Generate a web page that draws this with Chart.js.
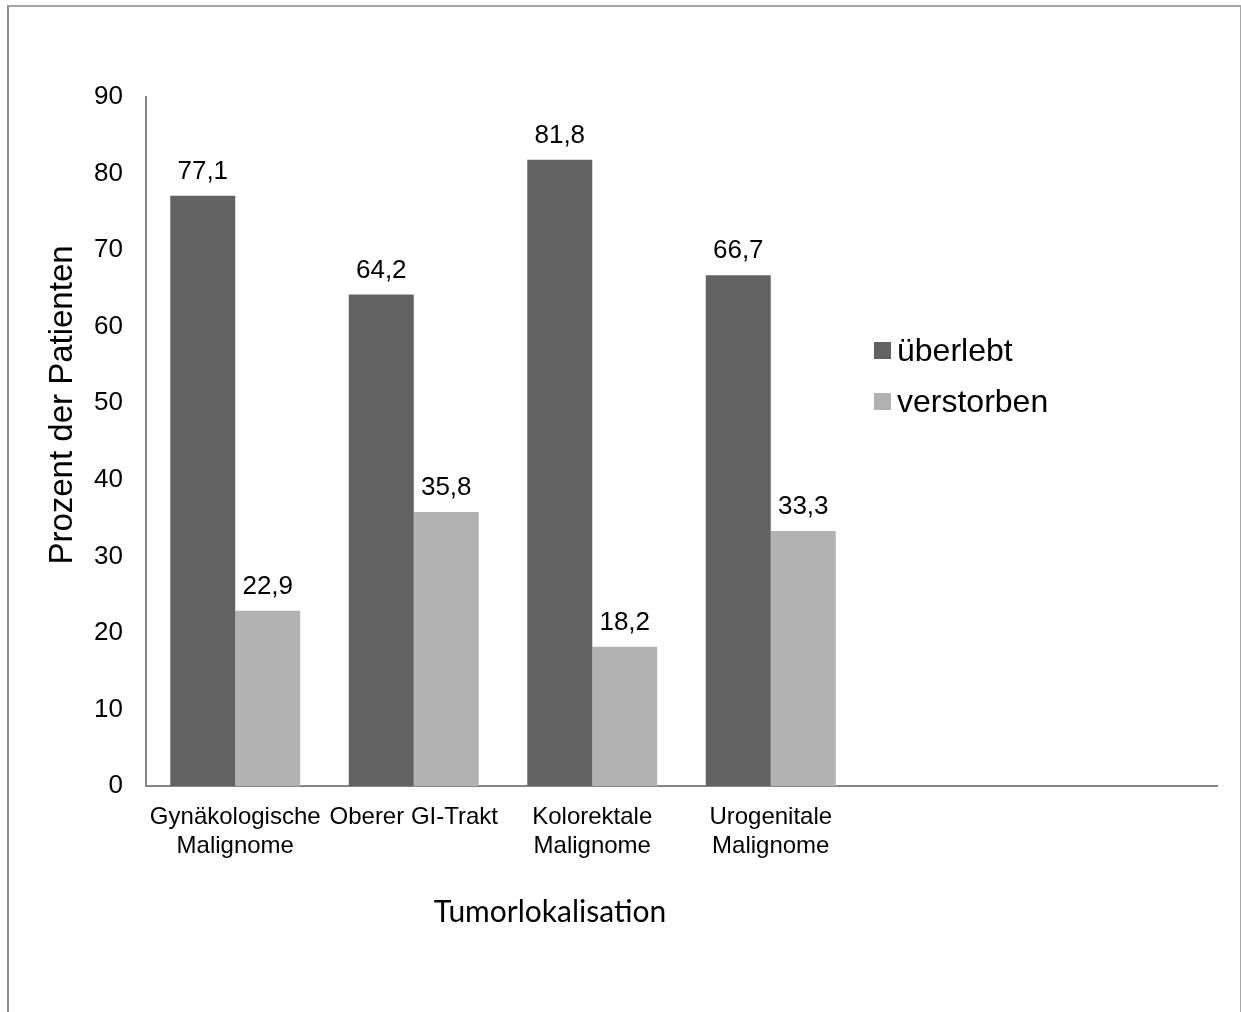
<!DOCTYPE html>
<html lang="de">
<head>
<meta charset="utf-8">
<title>Überleben nach Tumorlokalisation</title>
<script src="https://cdn.jsdelivr.net/npm/chart.js@4.4.1/dist/chart.umd.min.js"></script>
<style>
  html, body { margin: 0; padding: 0; background: #ffffff; overflow: hidden; }
  #wrap { position: relative; width: 1241px; height: 1012px; }
  #frame {
    position: absolute; left: 7px; top: 5px; width: 1231px; height: 1100px;
    border-left: 2px solid #8c8c8c; border-top: 2px solid #a6a6a6; border-right: 2px solid #a6a6a6;
    pointer-events: none;
  }
  canvas { position: absolute; left: 0; top: 0; }
</style>
</head>
<body>
<div id="wrap">
  <canvas id="chart" width="1241" height="1012"></canvas>
  <div id="frame"></div>
</div>
<script>
// Categories (the two trailing slots stay empty, as in the original worksheet range)
const categories = [
  ['Gynäkologische', 'Malignome'],
  'Oberer GI-Trakt',
  ['Kolorektale', 'Malignome'],
  ['Urogenitale', 'Malignome'],
  '',
  ''
];
const seriesNames = ['überlebt', 'verstorben'];
const ueberlebt  = [77.1, 64.2, 81.8, 66.7, null, null];
const verstorben = [22.9, 35.8, 18.2, 33.3, null, null];
const yTicks = [0, 10, 20, 30, 40, 50, 60, 70, 80, 90];
const yTitle = 'Prozent der Patienten';
const xTitle = 'Tumorlokalisation';

const SANS = '"Liberation Sans", Arial, sans-serif';
const colors = ['#626262', '#b2b2b2'];
const axisColor = '#868686';

// Value labels above every bar, German decimal comma
const valueLabels = {
  id: 'valueLabels',
  afterDatasetsDraw(chart) {
    const ctx = chart.ctx;
    ctx.save();
    ctx.font = '26px ' + SANS;
    ctx.fillStyle = '#000000';
    ctx.textAlign = 'center';
    ctx.textBaseline = 'alphabetic';
    chart.data.datasets.forEach((ds, di) => {
      const meta = chart.getDatasetMeta(di);
      meta.data.forEach((bar, i) => {
        const v = ds.data[i];
        if (v === null || v === undefined) return;
        ctx.fillText(v.toFixed(1).replace('.', ','), bar.x, bar.y - 17);
      });
    });
    ctx.restore();
  }
};

// Legend placed inside the plot area on the right, plus both axis titles
const extras = {
  id: 'extras',
  afterDraw(chart) {
    const ctx = chart.ctx;
    ctx.save();
    // legend
    ctx.font = '32px ' + SANS;
    ctx.textAlign = 'left';
    ctx.textBaseline = 'alphabetic';
    chart.data.datasets.forEach((ds, i) => {
      const top = 342 + i * 51;
      ctx.fillStyle = ds.backgroundColor;
      ctx.fillRect(874, top, 17, 17);
      ctx.fillStyle = '#000000';
      ctx.fillText(ds.label, 897, top + 19);
    });
    // y axis title
    ctx.save();
    ctx.translate(72, 405);
    ctx.rotate(-Math.PI / 2);
    ctx.font = '33px ' + SANS;
    ctx.textAlign = 'center';
    ctx.textBaseline = 'alphabetic';
    ctx.fillStyle = '#000000';
    ctx.fillText(yTitle, 0, 0);
    ctx.restore();
    // x axis title
    ctx.font = '30px Lato, "Open Sans", sans-serif';
    ctx.textAlign = 'center';
    ctx.textBaseline = 'alphabetic';
    ctx.fillStyle = '#000000';
    ctx.fillText(xTitle, 550, 922);
    ctx.restore();
  }
};

new Chart(document.getElementById('chart'), {
  type: 'bar',
  data: {
    labels: categories,
    datasets: [
      { label: seriesNames[0], data: ueberlebt,  backgroundColor: colors[0], borderWidth: 0 },
      { label: seriesNames[1], data: verstorben, backgroundColor: colors[1], borderWidth: 0 }
    ]
  },
  options: {
    responsive: false,
    animation: false,
    devicePixelRatio: 1,
    categoryPercentage: 0.728,
    barPercentage: 1.0,
    layout: { padding: { top: 97, right: 24, left: 0, bottom: 0 } },
    plugins: {
      legend: { display: false },
      tooltip: { enabled: false },
      title: { display: false }
    },
    scales: {
      x: {
        grid: { display: false, drawTicks: false },
        border: { display: true, color: axisColor, width: 2 },
        ticks: {
          color: '#000000',
          font: { family: SANS, size: 24, lineHeight: 1.2 },
          maxRotation: 0,
          minRotation: 0,
          autoSkip: false,
          padding: 17
        },
        afterFit(scale) { scale.height = 226; }
      },
      y: {
        min: 0,
        max: 90,
        afterBuildTicks(scale) { scale.ticks = yTicks.map(v => ({ value: v })); },
        grid: { display: false, drawTicks: false },
        border: { display: true, color: axisColor, width: 2 },
        ticks: {
          color: '#000000',
          font: { family: SANS, size: 26 },
          padding: 23
        },
        afterFit(scale) { scale.width = 146; }
      }
    }
  },
  plugins: [valueLabels, extras]
});
</script>
</body>
</html>
